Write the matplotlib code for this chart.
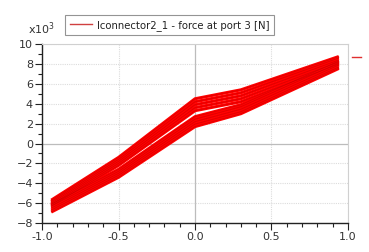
import matplotlib
matplotlib.use('Agg')
import matplotlib.pyplot as plt
from matplotlib.lines import Line2D
from matplotlib.ticker import MultipleLocator

x_knots = [-0.94, -0.5, 0.0, 0.3, 0.94]

# force at port 3, in units of 10^3 N
upper_curves = [
    [-5.70, -1.40, 4.50, 5.40, 8.75],
    [-5.85, -1.60, 4.20, 5.10, 8.60],
    [-6.00, -1.80, 3.90, 4.80, 8.40],
    [-6.15, -2.00, 3.60, 4.50, 8.20],
    [-6.30, -2.20, 3.30, 4.20, 8.00],
]
lower_curves = [
    [-6.10, -2.60, 2.70, 3.90, 8.30],
    [-6.30, -2.80, 2.45, 3.70, 8.10],
    [-6.50, -3.00, 2.20, 3.45, 7.90],
    [-6.70, -3.20, 1.95, 3.20, 7.70],
    [-6.90, -3.40, 1.70, 3.00, 7.55],
]

x_ticks = [-1.0, -0.5, 0.0, 0.5, 1.0]
x_labels = ['-1.0', '-0.5', '0.0', '0.5', '1.0']
y_ticks = [-8, -6, -4, -2, 0, 2, 4, 6, 8, 10]
legend_label = 'lconnector2_1 - force at port 3 [N]'

fig = plt.figure(figsize=(3.69, 2.52), dpi=100)
ax = fig.add_axes([0.114, 0.115, 0.829, 0.71])

# gridlines: dotted at ticks, solid at zero
for xv in x_ticks:
    if xv == 0.0:
        ax.axvline(xv, color='#bcbcbc', lw=0.9, zorder=0)
    else:
        ax.axvline(xv, color='#dcdcdc', lw=0.8, ls=(0, (1, 1)), zorder=0)
for yv in y_ticks:
    if yv == 0:
        ax.axhline(yv, color='#bcbcbc', lw=0.9, zorder=0)
    else:
        ax.axhline(yv, color='#dcdcdc', lw=0.8, ls=(0, (1, 1)), zorder=0)

for ys in upper_curves + lower_curves:
    ax.plot(x_knots, ys, color='#ff0000', lw=2.2, solid_capstyle='butt', zorder=2)
    ax.plot(x_knots, ys, color='#c00000', lw=0.5, alpha=0.6, zorder=3)

ax.set_xlim(-1.0, 1.0)
ax.set_ylim(-8, 10)
ax.set_xticks(x_ticks)
ax.set_xticklabels(x_labels)
ax.set_yticks(y_ticks)
ax.xaxis.set_minor_locator(MultipleLocator(0.1))
ax.yaxis.set_minor_locator(MultipleLocator(1))
ax.tick_params(which='major', length=5, width=0.8, color='#222222',
               labelsize=8, labelcolor='#333333', pad=1.5)
ax.tick_params(which='minor', length=3, width=0.8, color='#222222')

for side in ['top', 'right']:
    ax.spines[side].set_color('#d0d0d0')
    ax.spines[side].set_linewidth(0.8)
for side in ['left', 'bottom']:
    ax.spines[side].set_color('#222222')
    ax.spines[side].set_linewidth(1.0)

fig.text(0.077, 0.855, r'x10$^{3}$', fontsize=8, color='#333333',
         ha='left', va='bottom')

# legend box above the plot
leg_handle = [Line2D([0], [0], color='#d04040', lw=1.0)]
leg = fig.legend(leg_handle, [legend_label], loc='center left',
                 bbox_to_anchor=(0.163, 0.9), fontsize=7.3, frameon=True,
                 fancybox=False, handlelength=2.2, handletextpad=0.5,
                 borderpad=0.45, labelcolor='#222222')
leg.get_frame().set_edgecolor('#7a7a7a')
leg.get_frame().set_linewidth(0.8)

# small marker at the right edge
fig.add_artist(Line2D([0.955, 0.978], [0.775, 0.775], color='#e03030', lw=1.0))

fig.savefig('out.png', dpi=100)
